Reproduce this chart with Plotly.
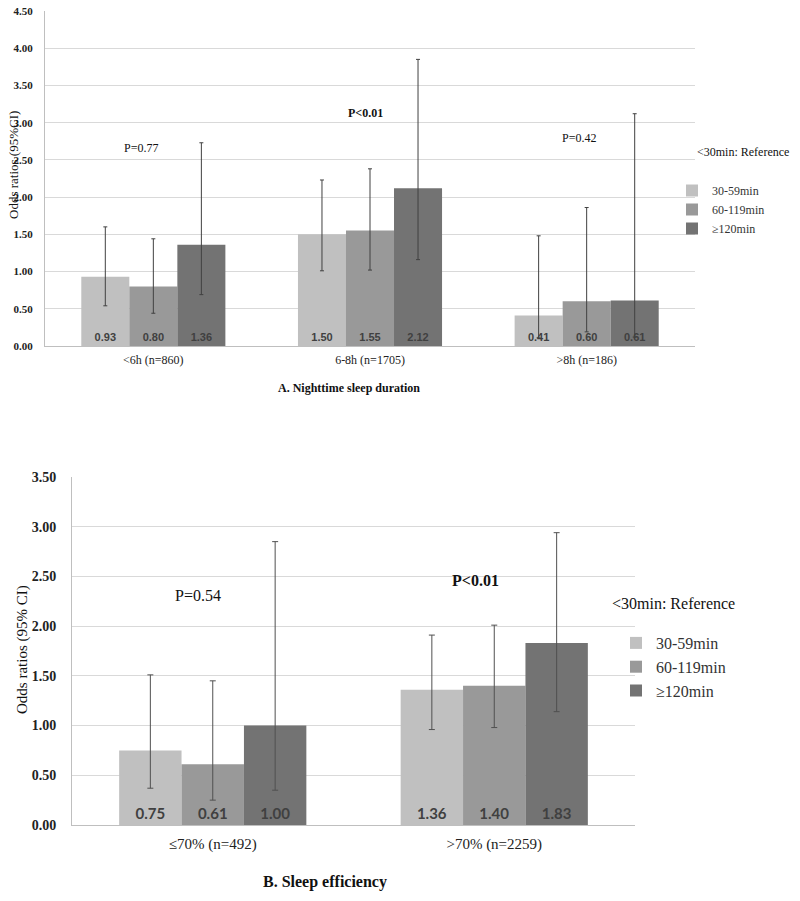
import plotly.graph_objects as go

# ---------------- data ----------------
groups = ["30-59min", "60-119min", "\u2265120min"]
colors = ["#c0c0c0", "#999999", "#737373"]

cats_a = ["<6h (n=860)", "6-8h (n=1705)", ">8h (n=186)"]
or_a = [[0.93, 1.50, 0.41], [0.80, 1.55, 0.60], [1.36, 2.12, 0.61]]
lo_a = [[0.54, 1.01, 0.11], [0.44, 1.02, 0.19], [0.69, 1.16, 0.12]]
hi_a = [[1.60, 2.23, 1.48], [1.44, 2.38, 1.86], [2.73, 3.85, 3.12]]
p_a = ["P=0.77", "P<0.01", "P=0.42"]

cats_b = ["\u226470% (n=492)", ">70% (n=2259)"]
or_b = [[0.75, 1.36], [0.61, 1.40], [1.00, 1.83]]
lo_b = [[0.37, 0.96], [0.25, 0.98], [0.35, 1.14]]
hi_b = [[1.51, 1.91], [1.45, 2.01], [2.85, 2.94]]
p_b = ["P=0.54", "P<0.01"]

ticks_a = [0, 0.5, 1.0, 1.5, 2.0, 2.5, 3.0, 3.5, 4.0, 4.5]
ticks_b = [0, 0.5, 1.0, 1.5, 2.0, 2.5, 3.0, 3.5]

SERIF = "'Times New Roman', 'Liberation Serif', serif"
W, H = 800, 901

fig = go.Figure()

for i, g in enumerate(groups):
    fig.add_trace(go.Bar(
        x=cats_a, y=or_a[i], name=g, marker=dict(color=colors[i], line=dict(width=0)),
        error_y=dict(type="data", symmetric=False,
                     array=[h - v for h, v in zip(hi_a[i], or_a[i])],
                     arrayminus=[v - l for v, l in zip(or_a[i], lo_a[i])],
                     color="#404040", thickness=1, width=2),
        texttemplate="%{y:.2f}", textposition="inside", insidetextanchor="start",
        textangle=0, constraintext="none",
        textfont=dict(family="'Liberation Sans', Arial, sans-serif", size=11,
                      color="#404040", weight="bold"),
        xaxis="x", yaxis="y", legend="legend",
    ))

for i, g in enumerate(groups):
    fig.add_trace(go.Bar(
        x=cats_b, y=or_b[i], name=g, marker=dict(color=colors[i], line=dict(width=0)),
        error_y=dict(type="data", symmetric=False,
                     array=[h - v for h, v in zip(hi_b[i], or_b[i])],
                     arrayminus=[v - l for v, l in zip(or_b[i], lo_b[i])],
                     color="#505050", thickness=1, width=3),
        texttemplate="%{y:.2f}", textposition="inside", insidetextanchor="start",
        textangle=0, constraintext="none",
        textfont=dict(family="Lato, sans-serif", size=15, color="#404040", weight="bold"),
        xaxis="x2", yaxis="y2", legend="legend2",
    ))

def px_x(v):
    return v / W

def px_y(v):
    return 1 - v / H

grid = "#d9d9d9"
axis_line = "#bfbfbf"

fig.update_layout(
    width=W, height=H,
    margin=dict(l=0, r=0, t=0, b=0, autoexpand=False),
    paper_bgcolor="white", plot_bgcolor="white",
    barmode="group", bargap=0.335, bargroupgap=0,
    xaxis=dict(domain=[px_x(45), px_x(695)], anchor="y", automargin=False,
               showline=True, linecolor=axis_line, linewidth=1,
               tickfont=dict(family=SERIF, size=12, color="#222"),
               ticklabelstandoff=3, showgrid=False),
    yaxis=dict(domain=[px_y(346), px_y(11)], anchor="x", range=[0, 4.5], automargin=False,
               tickvals=ticks_a, tickformat=".2f",
               tickfont=dict(family=SERIF, size=11, color="#222", weight="bold"),
               showline=True, linecolor=axis_line, linewidth=1,
               gridcolor=grid, gridwidth=1, zeroline=False,
               ticklabelstandoff=9),
    xaxis2=dict(domain=[px_x(72), px_x(635)], anchor="y2", automargin=False,
                showline=True, linecolor=axis_line, linewidth=1,
                tickfont=dict(family=SERIF, size=15, color="#222"),
                ticklabelstandoff=5, showgrid=False),
    yaxis2=dict(domain=[px_y(825), px_y(477)], anchor="x2", range=[0, 3.5], automargin=False,
                tickvals=ticks_b, tickformat=".2f",
                tickfont=dict(family=SERIF, size=14, color="#222", weight="bold"),
                showline=True, linecolor=axis_line, linewidth=1,
                gridcolor=grid, gridwidth=1, zeroline=False,
                ticklabelstandoff=12),
    legend=dict(x=px_x(672), y=px_y(176), xanchor="left", yanchor="top",
                font=dict(family=SERIF, size=12, color="#333"), bgcolor="rgba(0,0,0,0)",
                itemwidth=30, tracegroupgap=0),
    legend2=dict(x=px_x(616), y=px_y(626), xanchor="left", yanchor="top",
                 font=dict(family=SERIF, size=16, color="#333"), bgcolor="rgba(0,0,0,0)",
                 itemwidth=30, tracegroupgap=0),
    showlegend=True,
)

ann = []
shifts_a = [(-12, 2.66), (-5, 3.13), (-8, 2.80)]
for c, p, (dx, yy) in zip(cats_a, p_a, shifts_a):
    ann.append(dict(x=c, y=yy, xref="x", yref="y", text=p.replace("<", "&lt;"), showarrow=False,
                    xshift=dx, font=dict(family=SERIF, size=12, color="#111",
                                         weight="bold" if "<" in p else "normal")))
shifts_b = [(-15, 2.31), (-19, 2.46)]
for c, p, (dx, yy) in zip(cats_b, p_b, shifts_b):
    ann.append(dict(x=c, y=yy, xref="x2", yref="y2", text=p.replace("<", "&lt;"), showarrow=False,
                    xshift=dx, font=dict(family=SERIF, size=16, color="#111",
                                         weight="bold" if "<" in p else "normal")))

def paper_text(x, y, text, size, bold=False, angle=0, anchor="center"):
    return dict(x=px_x(x), y=px_y(y), xref="paper", yref="paper", xanchor=anchor,
                yanchor="middle", text=text, showarrow=False, textangle=angle,
                font=dict(family=SERIF, size=size, color="#111",
                          weight="bold" if bold else "normal"))

ann.append(paper_text(13, 165, "Odds ratios (95%CI)", 13, angle=-90))
ann.append(paper_text(22, 650, "Odds ratios (95% CI)", 15, angle=-90))
ann.append(paper_text(695, 152, "&lt;30min: Reference", 12, anchor="left"))
ann.append(paper_text(610, 603, "&lt;30min: Reference", 16, anchor="left"))
ann.append(paper_text(349, 388, "A. Nighttime sleep duration", 12, bold=True))
ann.append(paper_text(325, 882, "B. Sleep efficiency", 16, bold=True))
fig.update_layout(annotations=ann)

fig.write_html("out.html", post_script="document.body.style.margin='0';",
               config={"displayModeBar": False})
